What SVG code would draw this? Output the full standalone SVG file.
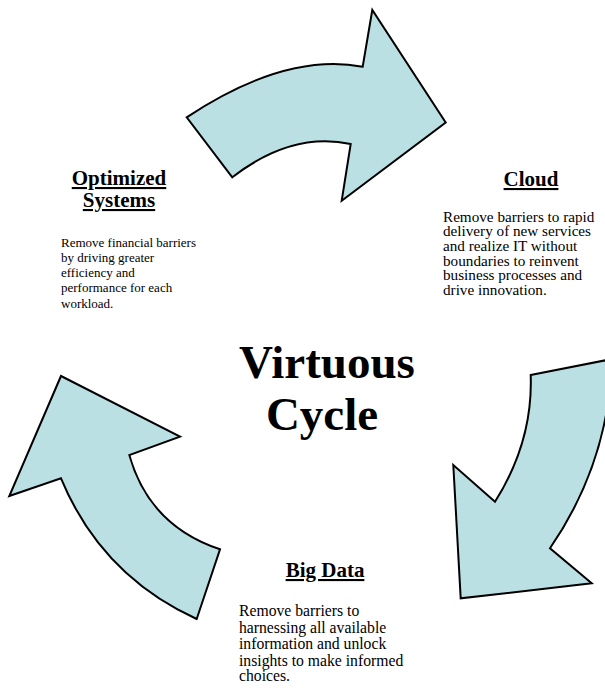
<svg xmlns="http://www.w3.org/2000/svg" width="605" height="690" viewBox="0 0 605 690">
<style>
.arrow{fill:#BBE0E3;stroke:#000;stroke-width:2;stroke-linejoin:miter}
.title{font-family:"Liberation Serif","Times New Roman",serif;font-weight:bold;font-size:21px;text-decoration:underline;text-anchor:middle;fill:#000}
.body{font-family:"Liberation Serif","Times New Roman",serif;fill:#000}
.big{font-family:"Liberation Serif","Times New Roman",serif;font-weight:bold;font-size:47px;text-anchor:middle;fill:#000}
</style>
<rect width="605" height="690" fill="#fff"/>
<g id="connectors">
<path id="arrow-top" class="arrow" d="M186.7,117.3 Q285.3,52 362.7,66.7 L372.3,10 L445.7,122.5 L341.7,200.7 L350.7,144 Q291.5,131.3 232.3,177.3 Z"/>
<path id="arrow-right" class="arrow" d="M530.7,375 L612,359 Q609,462.3 550,548.3 L591.7,583.3 L460.7,598.3 L453.3,465 L495,501.7 Q533.1,441.6 530.7,375 Z"/>
<path id="arrow-left" class="arrow" d="M61,376 L180,436.7 L129.3,455 Q149.3,525.8 220,549.3 L196.7,619 Q101.1,575.3 61,478.3 L9.3,496 Z"/>
</g>
<g id="center">
<text class="big" x="327" y="378">Virtuous</text>
<text class="big" x="322" y="430">Cycle</text>
</g>
<g id="node-optimized">
<text class="title" x="119" y="185">Optimized</text>
<text class="title" x="119" y="207">Systems</text>
<text class="body" font-size="13" x="61">
<tspan x="61" y="247">Remove financial barriers</tspan>
<tspan x="61" y="262">by driving greater</tspan>
<tspan x="61" y="277">efficiency and</tspan>
<tspan x="61" y="292">performance for each</tspan>
<tspan x="61" y="308">workload.</tspan>
</text>
</g>
<g id="node-cloud">
<text class="title" x="531" y="186">Cloud</text>
<text class="body" font-size="15.2" x="443">
<tspan x="443" y="221.5">Remove barriers to rapid</tspan>
<tspan x="443" y="236.2">delivery of new services</tspan>
<tspan x="443" y="250.9">and realize IT without</tspan>
<tspan x="443" y="265.6">boundaries to reinvent</tspan>
<tspan x="443" y="280.3">business processes and</tspan>
<tspan x="443" y="295">drive innovation.</tspan>
</text>
</g>
<g id="node-bigdata">
<text class="title" x="325" y="577">Big Data</text>
<text class="body" font-size="15.7" x="239">
<tspan x="239" y="616">Remove barriers to</tspan>
<tspan x="239" y="632.5">harnessing all available</tspan>
<tspan x="239" y="649">information and unlock</tspan>
<tspan x="239" y="665.5">insights to make informed</tspan>
<tspan x="239" y="681">choices.</tspan>
</text>
</g>
</svg>
